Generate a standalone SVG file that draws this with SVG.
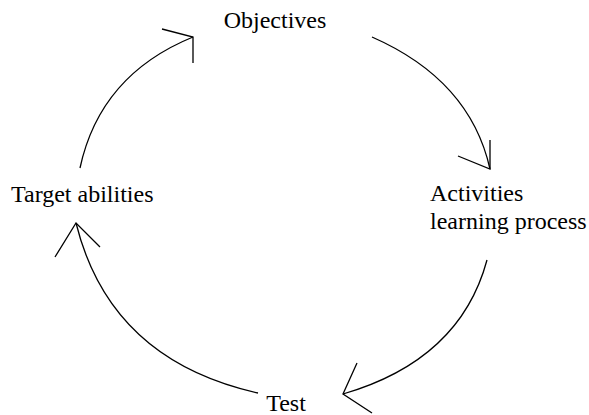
<svg xmlns="http://www.w3.org/2000/svg" width="589" height="415" viewBox="0 0 589 415">
<style>
.t{font-family:"Liberation Serif",serif;font-size:24px;fill:#000}
.c{fill:none;stroke:#000;stroke-width:1.3}
</style>
<rect width="589" height="415" fill="#fff"/>
<g id="connectors">
<path class="c" d="M80,168 Q100,75 193,37"/>
<path class="c" d="M162,29 L193,37 L193,63"/>
<path class="c" d="M372,37 Q470,80 490,169"/>
<path class="c" d="M458,156 L490,169 L490,140"/>
<path class="c" d="M487,260 Q460,360 343,394"/>
<path class="c" d="M357,363 L343,394 L372,413"/>
<path class="c" d="M258,393 Q110,360 76,223"/>
<path class="c" d="M55,257 L76,223 L100,247"/>
</g>
<g id="objectives"><text class="t" x="275" y="28" text-anchor="middle">Objectives</text></g>
<g id="activities"><text class="t" x="430" y="201">Activities</text><text class="t" x="430" y="229">learning process</text></g>
<g id="test"><text class="t" x="286" y="411" text-anchor="middle">Test</text></g>
<g id="target"><text class="t" x="11" y="202">Target abilities</text></g>
</svg>
